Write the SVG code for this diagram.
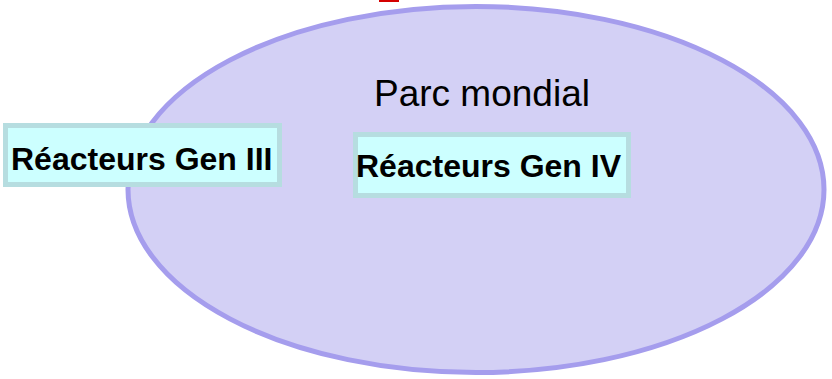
<svg xmlns="http://www.w3.org/2000/svg" width="832" height="379" viewBox="0 0 832 379">
<style>
.box{fill:#ccffff;stroke:#b6dde0;stroke-width:5}
.bt{font-family:"Liberation Sans",Arial,sans-serif;font-weight:bold;font-size:32px;fill:#000}
.lt{font-family:"Liberation Sans",Arial,sans-serif;font-size:37px;fill:#000}
</style>
<rect width="832" height="379" fill="#ffffff"/>
<rect x="379" y="0" width="20" height="2" fill="#d40000"/>
<g id="parc">
<ellipse cx="476" cy="189.5" rx="348" ry="183" fill="#d3d0f5" stroke="#a59ded" stroke-width="5"/>
<text class="lt" x="374" y="106">Parc mondial</text>
</g>
<g id="gen3">
<rect class="box" x="5.5" y="125.5" width="274" height="59"/>
<text class="bt" x="11" y="170">Réacteurs Gen III</text>
</g>
<g id="gen4">
<rect class="box" x="355.5" y="134.5" width="273" height="61"/>
<text class="bt" x="356" y="177">Réacteurs Gen IV</text>
</g>
<g id="connectors"></g>
</svg>
